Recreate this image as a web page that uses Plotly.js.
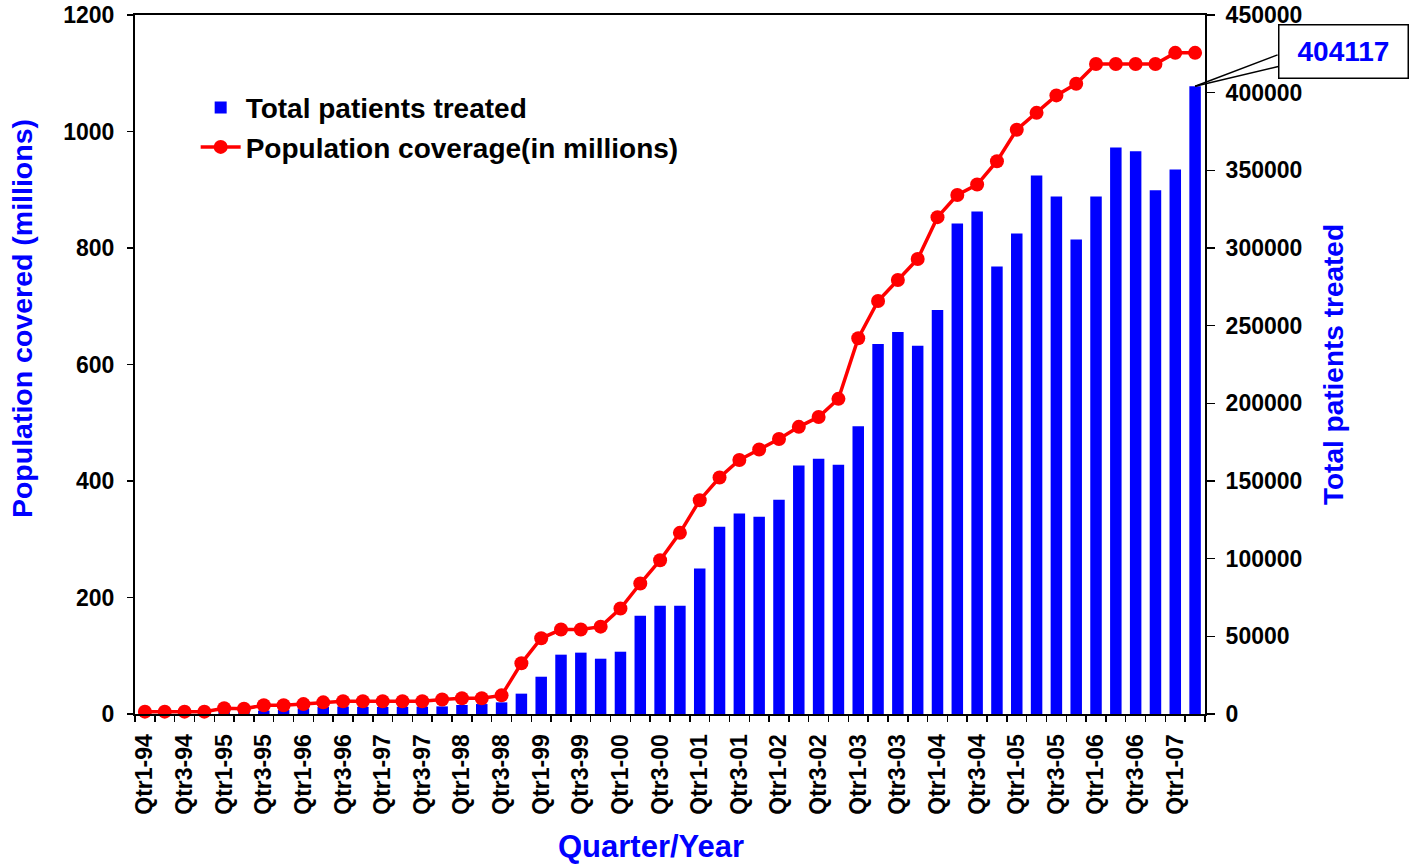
<!DOCTYPE html>
<html>
<head>
<meta charset="utf-8">
<script src="https://cdn.plot.ly/plotly-3.0.1.min.js"></script>
<style>
  html, body { margin: 0; padding: 0; background: #fff; }
  #chart { width: 1417px; height: 865px; }
</style>
</head>
<body>
<div id="chart"></div>
<script>
const quarters = [
  "Qtr1-94","Qtr2-94","Qtr3-94","Qtr4-94",
  "Qtr1-95","Qtr2-95","Qtr3-95","Qtr4-95",
  "Qtr1-96","Qtr2-96","Qtr3-96","Qtr4-96",
  "Qtr1-97","Qtr2-97","Qtr3-97","Qtr4-97",
  "Qtr1-98","Qtr2-98","Qtr3-98","Qtr4-98",
  "Qtr1-99","Qtr2-99","Qtr3-99","Qtr4-99",
  "Qtr1-00","Qtr2-00","Qtr3-00","Qtr4-00",
  "Qtr1-01","Qtr2-01","Qtr3-01","Qtr4-01",
  "Qtr1-02","Qtr2-02","Qtr3-02","Qtr4-02",
  "Qtr1-03","Qtr2-03","Qtr3-03","Qtr4-03",
  "Qtr1-04","Qtr2-04","Qtr3-04","Qtr4-04",
  "Qtr1-05","Qtr2-05","Qtr3-05","Qtr4-05",
  "Qtr1-06","Qtr2-06","Qtr3-06","Qtr4-06",
  "Qtr1-07","Qtr2-07"
];

const patientsTreated = [
  200, 300, 500, 800, 1200, 1600, 2200, 2800, 3600, 4500,
  4800, 4600, 4500, 4600, 4700, 4900, 5800, 6400, 7500, 13100,
  24000, 38200, 39500, 35600, 40100, 63300, 69700, 69700, 93600, 120600,
  129000, 127000, 138000, 159900, 164400, 160500, 185300, 238200, 246000, 237000,
  260100, 315700, 323500, 288100, 309400, 346700, 333100, 305500, 333100, 364700,
  362300, 337100, 350600, 404117
];

const populationCoverage = [
  4, 4, 4, 4, 10, 9, 15, 15, 17, 20,
  22, 22, 22, 22, 22, 25, 27, 27, 32, 87,
  130, 145, 145, 150, 181, 224, 264, 311, 367, 406,
  436, 454, 472, 493, 510, 541, 645, 709, 745, 781,
  853, 891, 909, 949, 1003, 1032, 1062, 1082, 1116, 1116,
  1116, 1116, 1135, 1135
];

const tickText = quarters.map((q, i) => (i % 2 === 0 ? q : ""));

const FONT = "Liberation Sans, Arial, sans-serif";
const BLUE = "#0000FF";
const RED = "#FF0000";

const lastIdx = patientsTreated.length - 1;

const traces = [
  {
    type: "bar",
    name: "Total patients treated",
    x: quarters,
    y: patientsTreated,
    yaxis: "y",
    marker: { color: BLUE },
    hoverinfo: "x+y"
  },
  {
    type: "scatter",
    mode: "lines+markers",
    name: "Population coverage(in millions)",
    x: quarters,
    y: populationCoverage,
    yaxis: "y2",
    line: { color: RED, width: 3.5 },
    marker: { color: RED, size: 14 },
    cliponaxis: false
  }
];

const layout = {
  width: 1417,
  height: 865,
  margin: { l: 135, r: 212, t: 15, b: 151 },
  paper_bgcolor: "#fff",
  plot_bgcolor: "#fff",
  font: { family: FONT, color: "#000" },
  bargap: 0.42,
  showlegend: true,
  legend: {
    x: 0.0567, y: 0.903, xanchor: "left", yanchor: "top",
    bgcolor: "rgba(0,0,0,0)",
    font: { family: FONT, size: 28, weight: "bold", color: "#000" },
    tracegroupgap: 0,
    itemwidth: 40
  },
  xaxis: {
    type: "category",
    range: [-0.5, quarters.length - 0.5],
    tickmode: "array",
    tickvals: quarters,
    ticktext: tickText,
    tickson: "boundaries",
    ticks: "outside",
    ticklen: 6,
    tickwidth: 1.5,
    tickcolor: "#000",
    tickangle: -90,
    ticklabelstandoff: 9,
    tickfont: { family: FONT, size: 23, weight: "bold", color: "#000" },
    showline: true,
    linecolor: "#000",
    linewidth: 2,
    mirror: true,
    showgrid: false,
    zeroline: false
  },
  yaxis: {
    side: "right",
    range: [0, 450000],
    dtick: 50000,
    tickformat: "d",
    ticks: "outside",
    ticklen: 8,
    tickwidth: 1.5,
    tickcolor: "#000",
    ticklabelstandoff: 6,
    tickfont: { family: FONT, size: 23, weight: "bold", color: "#000" },
    showline: true,
    linecolor: "#000",
    linewidth: 2,
    showgrid: false,
    zeroline: false,
    title: {
      text: "Total patients treated",
      font: { family: FONT, size: 28, weight: "bold", color: BLUE },
      standoff: 22
    }
  },
  yaxis2: {
    overlaying: "y",
    side: "left",
    range: [0, 1200],
    dtick: 200,
    ticks: "outside",
    ticklen: 6,
    tickwidth: 1.5,
    tickcolor: "#000",
    ticklabelstandoff: 8,
    tickfont: { family: FONT, size: 23, weight: "bold", color: "#000" },
    showline: true,
    linecolor: "#000",
    linewidth: 2,
    showgrid: false,
    zeroline: false
  },
  annotations: [
    {
      xref: "paper", yref: "paper",
      x: -0.1056, y: 0.565,
      xanchor: "center", yanchor: "middle",
      text: "Population covered (millions)",
      textangle: -90,
      showarrow: false,
      font: { family: FONT, size: 28.5, weight: "bold", color: BLUE }
    },
    {
      xref: "paper", yref: "paper",
      x: 0.482, y: -0.189,
      xanchor: "center", yanchor: "middle",
      text: "Quarter/Year",
      showarrow: false,
      font: { family: FONT, size: 31, weight: "bold", color: BLUE }
    },
    {
      x: quarters[lastIdx],
      y: patientsTreated[lastIdx],
      xref: "x",
      yref: "y",
      text: String(patientsTreated[lastIdx]),
      font: { family: FONT, size: 28, weight: "bold", color: BLUE },
      showarrow: true,
      arrowhead: 0,
      arrowwidth: 1.5,
      arrowcolor: "#000",
      ax: 148,
      ay: -35,
      bgcolor: "#fff",
      bordercolor: "#000",
      borderwidth: 1.5,
      width: 124,
      height: 48,
      borderpad: 2
    },
    {
      x: quarters[lastIdx],
      y: patientsTreated[lastIdx],
      xref: "x",
      yref: "y",
      text: " ",
      font: { size: 1 },
      showarrow: true,
      arrowhead: 0,
      arrowwidth: 1.5,
      arrowcolor: "#000",
      ax: 84,
      ay: -32
    }
  ]
};

Plotly.newPlot("chart", traces, layout, { displayModeBar: false, staticPlot: true });
</script>
</body>
</html>
